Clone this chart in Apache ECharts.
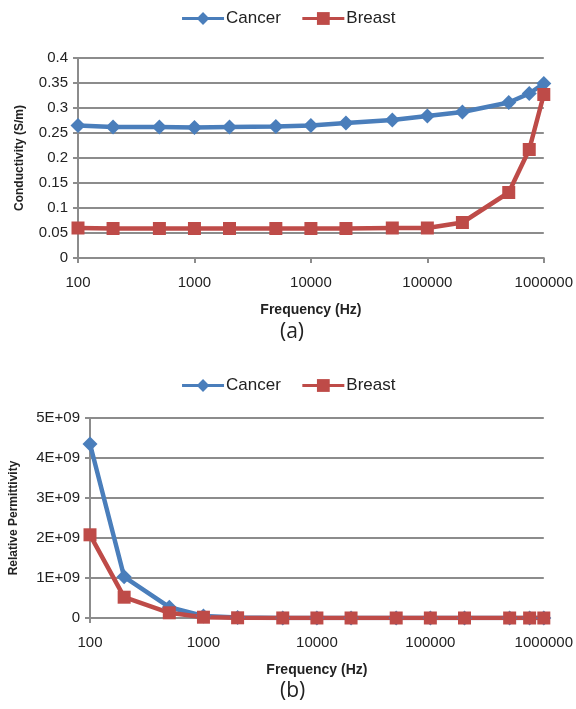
<!DOCTYPE html>
<html>
<head>
<meta charset="utf-8">
<script src="https://cdn.jsdelivr.net/npm/echarts@6/dist/echarts.min.js"></script>
<style>
  html, body { margin: 0; padding: 0; background: #fff; }
  #main { width: 576px; height: 709px; }
</style>
</head>
<body>
<div id="main"></div>
<script>
// frequencies (Hz)
var freq = [100, 200, 500, 1000, 2000, 5000, 10000, 20000, 50000, 100000, 200000, 500000, 750000, 1000000];

// (a) conductivity, S/m
var cancerCond = [0.265, 0.262, 0.262, 0.261, 0.262, 0.263, 0.265, 0.270, 0.276, 0.284, 0.292, 0.311, 0.329, 0.349];
var breastCond = [0.060, 0.059, 0.059, 0.059, 0.059, 0.059, 0.059, 0.059, 0.060, 0.060, 0.071, 0.131, 0.217, 0.327];

// (b) relative permittivity
var cancerPerm = [4.35e9, 1.03e9, 2.7e8, 5e7, 1e7, 3e6, 1e6, 5e5, 2e5, 1e5, 5e4, 2e4, 1e4, 1e4];
var breastPerm = [2.08e9, 5.2e8, 1.3e8, 2e7, 5e6, 1e6, 5e5, 2e5, 1e5, 5e4, 2e4, 1e4, 5e3, 5e3];

var seriesNames = ['Cancer', 'Breast'];
var condTicks = { min: 0, max: 0.4, step: 0.05 };
var permTicks = { min: 0, max: 5e9, step: 1e9 };

var blue = '#4A7EBB';
var red = '#BE4B48';
var grey = '#8C8C8C';
var font = 'Liberation Sans';

function pairs(xs, ys) {
    return xs.map(function (x, i) { return [x, ys[i]]; });
}

function xAxis(idx) {
    return {
        type: 'log', logBase: 10, gridIndex: idx,
        min: 100, max: 1000000,
        name: 'Frequency (Hz)', nameLocation: 'middle', nameGap: 45,
        nameTextStyle: { fontFamily: font, fontWeight: 'bold', fontSize: 14, color: '#222' },
        axisLine: { lineStyle: { color: grey, width: 2 } },
        axisTick: { show: true, length: 5, lineStyle: { color: grey, width: 2 } },
        minorTick: { show: false },
        splitLine: { show: false },
        axisLabel: {
            fontFamily: font, fontSize: 15, color: '#222', margin: 17,
            formatter: function (v) { return String(Math.round(v)); }
        }
    };
}

function yAxis(idx, t, name, gap, fmt) {
    return {
        type: 'value', gridIndex: idx,
        min: t.min, max: t.max, interval: t.step,
        name: name, nameLocation: 'middle', nameGap: gap, nameRotate: 90,
        nameTextStyle: { fontFamily: font, fontWeight: 'bold', fontSize: 12, color: '#222' },
        axisLine: { show: true, lineStyle: { color: grey, width: 2 } },
        axisTick: { show: true, length: 5, lineStyle: { color: grey, width: 2 } },
        splitLine: { lineStyle: { color: grey, width: 2 } },
        axisLabel: { fontFamily: font, fontSize: 15, color: '#222', margin: 10, formatter: fmt }
    };
}

function line(name, idx, data, color, symbol) {
    return {
        name: name, type: 'line', xAxisIndex: idx, yAxisIndex: idx,
        data: data, color: color,
        symbol: symbol, symbolSize: symbol === 'diamond' ? 15 : 13,
        lineStyle: { width: 4.5, color: color },
        itemStyle: { color: color },
        emphasis: { disabled: true },
        animation: false
    };
}

function legend(top) {
    return {
        top: top, left: 'center',
        data: seriesNames,
        itemWidth: 42, itemHeight: 16, itemGap: 20,
        lineStyle: { width: 3 },
        textStyle: { fontFamily: font, fontSize: 17, color: '#222', padding: [0, 0, 0, -3] }
    };
}

var chart = echarts.init(document.getElementById('main'));

var option = {
    backgroundColor: '#fff',
    legend: [legend(5), legend(372)],
    grid: [
        { left: 78, right: 31, top: 58, height: 200 },
        { left: 88, right: 31, top: 418, height: 200 }
    ],
    xAxis: [xAxis(0), xAxis(1)],
    yAxis: [
        yAxis(0, condTicks, 'Conductivity (S/m)', 52, null),
        yAxis(1, permTicks, 'Relative Permittivity', 70, function (v) {
            return v === 0 ? '0' : Math.round(v / 1e9) + 'E+09';
        })
    ],
    series: [
        line('Cancer', 0, pairs(freq, cancerCond), blue, 'diamond'),
        line('Breast', 0, pairs(freq, breastCond), red, 'rect'),
        line('Cancer', 1, pairs(freq, cancerPerm), blue, 'diamond'),
        line('Breast', 1, pairs(freq, breastPerm), red, 'rect')
    ],
    graphic: [
        { type: 'text', left: 280, top: 322,
          style: { text: '(a)', fontFamily: 'Open Sans', fontSize: 21, fill: '#222' } },
        { type: 'text', left: 280, top: 681,
          style: { text: '(b)', fontFamily: 'Open Sans', fontSize: 21, fill: '#222' } }
    ]
};

chart.setOption(option);
</script>
</body>
</html>
